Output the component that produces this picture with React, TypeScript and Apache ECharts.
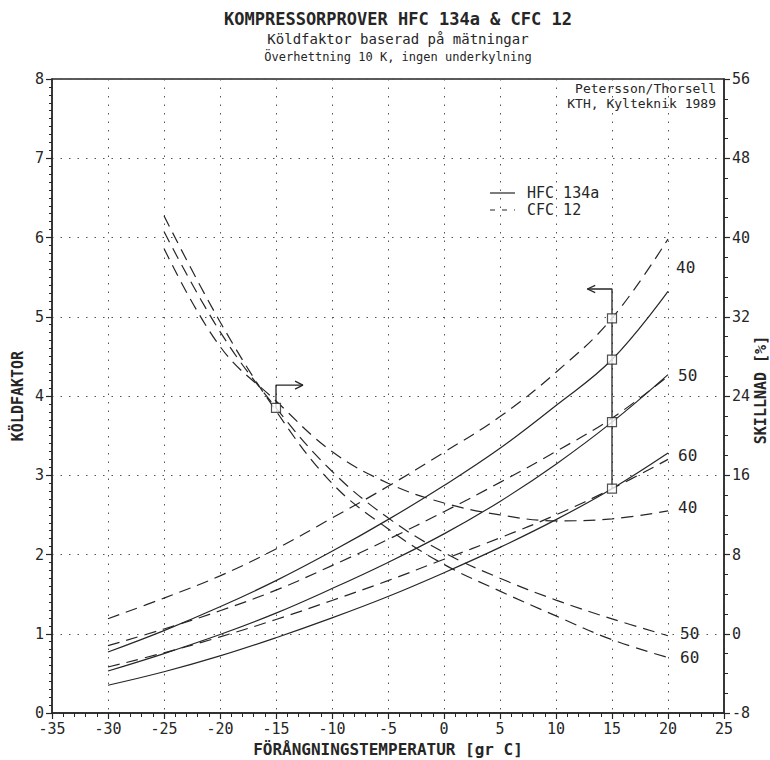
import React, { useEffect, useRef } from "react";
import * as echarts from "echarts";

// Evaporation temperatures (°C)
const temps = [-30, -25, -20, -15, -10, -5, 0, 5, 10, 15, 20];
// Köldfaktor (COP), HFC 134a (solid) at condensing 40/50/60
const hfc40 = [0.77, 1.04, 1.34, 1.67, 2.04, 2.44, 2.87, 3.34, 3.88, 4.46, 5.32];
const hfc50 = [0.53, 0.75, 0.99, 1.26, 1.57, 1.9, 2.26, 2.67, 3.14, 3.67, 4.27];
const hfc60 = [0.35, 0.52, 0.72, 0.95, 1.2, 1.47, 1.77, 2.09, 2.44, 2.83, 3.28];
// Köldfaktor, CFC 12 (dashed)
const cfc40 = [1.19, 1.45, 1.73, 2.07, 2.46, 2.86, 3.29, 3.74, 4.3, 4.98, 5.98];
const cfc50 = [0.85, 1.06, 1.29, 1.55, 1.86, 2.19, 2.54, 2.91, 3.3, 3.72, 4.25];
const cfc60 = [0.58, 0.76, 0.96, 1.18, 1.42, 1.67, 1.94, 2.21, 2.5, 2.83, 3.2];
// Skillnad [%] (right axis)
const diffTemps = [-25, -20, -15, -10, -5, 0, 5, 10, 15, 20];
const diff40 = [38.9, 29, 23.5, 18.4, 15.2, 13.2, 12.0, 11.4, 11.6, 12.4];
const diff50 = [40.6, 30.5, 22.8, 16.4, 11.7, 8.2, 5.6, 3.4, 1.5, -0.2];
const diff60 = [42.2, 31.5, 22.5, 15.2, 10.6, 7.0, 4.3, 1.8, -0.6, -2.4];

// Annotation arrows
const rightArrow = [[-15, 22.8], [-15, 25.1], [-12.6, 25.1]];
const rightArrowHead = [[-13.3, 25.5], [-12.6, 25.1], [-13.3, 24.7]];
const leftArrowTop = 5.35;
const leftArrowEnd = 12.8;

const FONT = "'DejaVu Sans Mono', monospace";
const INK = "#262626";

export default function App() {
  const ref = useRef<HTMLDivElement>(null);
  useEffect(() => {
    if (!ref.current) return;
    const chart = echarts.init(ref.current, null, { renderer: "svg" });
    const pts = (xs: number[], ys: number[]) => xs.map((x, i) => [x, ys[i]]);
    const i15 = temps.indexOf(15);
    const solid = { color: INK, width: 1.2, type: "solid" as const };
    const dashed = { color: INK, width: 1.2, type: [12, 7] as any };
    const lineS = (name: string, data: any, ls: any, yAxisIndex = 0) => ({
      name,
      type: "line",
      data,
      yAxisIndex,
      smooth: 0.4,
      showSymbol: false,
      symbol: "none",
      lineStyle: ls,
      silent: true,
      z: 3,
    });
    const axisCommon = {
      axisLine: { show: true, onZero: false, lineStyle: { color: INK, width: 1.5 } },
      axisTick: { show: true, inside: false, length: 6, lineStyle: { color: INK, width: 1.2 } },
      axisLabel: { color: INK, fontFamily: FONT, fontSize: 15, margin: 8 },
    };
    const dotted = { show: true, lineStyle: { color: "#555", type: [1.5, 7] as any, width: 1 } };
    const box = {
      symbol: "rect",
      symbolSize: 9,
      itemStyle: { color: "#fff", borderColor: INK, borderWidth: 1.2 },
      silent: true,
      z: 5,
    };
    chart.setOption({
      animation: false,
      backgroundColor: "#ffffff",
      grid: {
        left: 52,
        right: 46,
        top: 79,
        bottom: 47,
        show: true,
        borderColor: INK,
        borderWidth: 1.3,
        backgroundColor: "transparent",
      },
      xAxis: {
        type: "value",
        min: -35,
        max: 25,
        interval: 5,
        ...axisCommon,
        minorTick: { show: true, splitNumber: 5, length: 4, lineStyle: { color: INK } },
        splitLine: dotted,
      },
      yAxis: [
        {
          type: "value",
          min: 0,
          max: 8,
          interval: 1,
          position: "left",
          ...axisCommon,
          minorTick: { show: true, splitNumber: 10, length: 3, lineStyle: { color: INK } },
          splitLine: dotted,
        },
        {
          type: "value",
          min: -8,
          max: 56,
          interval: 8,
          position: "right",
          ...axisCommon,
          minorTick: { show: true, splitNumber: 4, length: 4, lineStyle: { color: INK } },
          splitLine: { show: false },
        },
      ],
      series: [
        lineS("HFC 134a 40", pts(temps, hfc40), solid),
        lineS("HFC 134a 50", pts(temps, hfc50), solid),
        lineS("HFC 134a 60", pts(temps, hfc60), solid),
        lineS("CFC 12 40", pts(temps, cfc40), dashed),
        lineS("CFC 12 50", pts(temps, cfc50), dashed),
        lineS("CFC 12 60", pts(temps, cfc60), dashed),
        lineS("Skillnad 40", pts(diffTemps, diff40), dashed, 1),
        lineS("Skillnad 50", pts(diffTemps, diff50), dashed, 1),
        lineS("Skillnad 60", pts(diffTemps, diff60), dashed, 1),
        {
          type: "line",
          data: [
            [15, hfc60[i15]],
            [15, leftArrowTop],
            [leftArrowEnd, leftArrowTop],
          ],
          symbol: "none",
          lineStyle: { color: INK, width: 1.3 },
          silent: true,
          z: 4,
        },
        {
          type: "line",
          data: [
            [leftArrowEnd + 0.7, leftArrowTop + 0.045],
            [leftArrowEnd, leftArrowTop],
            [leftArrowEnd + 0.7, leftArrowTop - 0.045],
          ],
          symbol: "none",
          lineStyle: { color: INK, width: 1.3 },
          silent: true,
          z: 4,
        },
        {
          type: "line",
          yAxisIndex: 1,
          data: rightArrow,
          symbol: "none",
          lineStyle: { color: INK, width: 1.3 },
          silent: true,
          z: 4,
        },
        {
          type: "line",
          yAxisIndex: 1,
          data: rightArrowHead,
          symbol: "none",
          lineStyle: { color: INK, width: 1.3 },
          silent: true,
          z: 4,
        },
        {
          type: "scatter",
          data: [
            [15, cfc40[i15]],
            [15, hfc40[i15]],
            [15, hfc50[i15]],
            [15, hfc60[i15]],
          ],
          ...box,
        },
        {
          type: "scatter",
          yAxisIndex: 1,
          data: [[-15, diff50[diffTemps.indexOf(-15)]]],
          ...box,
        },
      ],
      graphic: [
        {
          type: "text",
          x: 398,
          y: 19,
          style: {
            text: "KOMPRESSORPROVER HFC 134a & CFC 12",
            font: `bold 17px ${FONT}`,
            fill: INK,
            align: "center",
            verticalAlign: "middle",
          },
        },
        {
          type: "text",
          x: 398,
          y: 39,
          style: {
            text: "Köldfaktor baserad på mätningar",
            font: `14px ${FONT}`,
            fill: INK,
            align: "center",
            verticalAlign: "middle",
          },
        },
        {
          type: "text",
          x: 398,
          y: 57,
          style: {
            text: "Överhettning 10 K, ingen underkylning",
            font: `12px ${FONT}`,
            fill: INK,
            align: "center",
            verticalAlign: "middle",
          },
        },
        {
          type: "text",
          x: 716,
          y: 88,
          style: { text: "Petersson/Thorsell", font: `13px ${FONT}`, fill: INK, align: "right", verticalAlign: "middle" },
        },
        {
          type: "text",
          x: 716,
          y: 103,
          style: { text: "KTH, Kylteknik 1989", font: `13px ${FONT}`, fill: INK, align: "right", verticalAlign: "middle" },
        },
        // legend
        { type: "line", shape: { x1: 490, y1: 193, x2: 515, y2: 193 }, style: { stroke: INK, lineWidth: 1.2 } },
        {
          type: "line",
          shape: { x1: 490, y1: 210, x2: 515, y2: 210 },
          style: { stroke: INK, lineWidth: 1.2, lineDash: [5, 7] },
        },
        {
          type: "text",
          x: 527,
          y: 193,
          style: { text: "HFC 134a", font: `15px ${FONT}`, fill: INK, align: "left", verticalAlign: "middle" },
        },
        {
          type: "text",
          x: 527,
          y: 210,
          style: { text: "CFC 12", font: `15px ${FONT}`, fill: INK, align: "left", verticalAlign: "middle" },
        },
        // curve labels
        ...[
          ["40", 676, 267],
          ["50", 678, 375],
          ["60", 678, 455],
          ["40", 678, 507],
          ["50", 680, 633],
          ["60", 680, 657],
        ].map(([t, x, y]) => ({
          type: "text",
          x: x as number,
          y: y as number,
          style: { text: t as string, font: `16px ${FONT}`, fill: INK, align: "left", verticalAlign: "middle" },
        })),
        // axis names
        {
          type: "text",
          x: 18,
          y: 396,
          rotation: Math.PI / 2,
          style: { text: "KÖLDFAKTOR", font: `bold 15px ${FONT}`, fill: INK, align: "center", verticalAlign: "middle" },
        },
        {
          type: "text",
          x: 761,
          y: 390,
          rotation: Math.PI / 2,
          style: { text: "SKILLNAD [%]", font: `bold 15px ${FONT}`, fill: INK, align: "center", verticalAlign: "middle" },
        },
        {
          type: "text",
          x: 388,
          y: 749,
          style: {
            text: "FÖRÅNGNINGSTEMPERATUR [gr C]",
            font: `bold 16px ${FONT}`,
            fill: INK,
            align: "center",
            verticalAlign: "middle",
          },
        },
      ],
    });
    return () => chart.dispose();
  }, []);
  return (
    <div
      ref={ref}
      style={{ position: "fixed", left: 0, top: 0, width: 770, height: 760, background: "#fff" }}
    />
  );
}
